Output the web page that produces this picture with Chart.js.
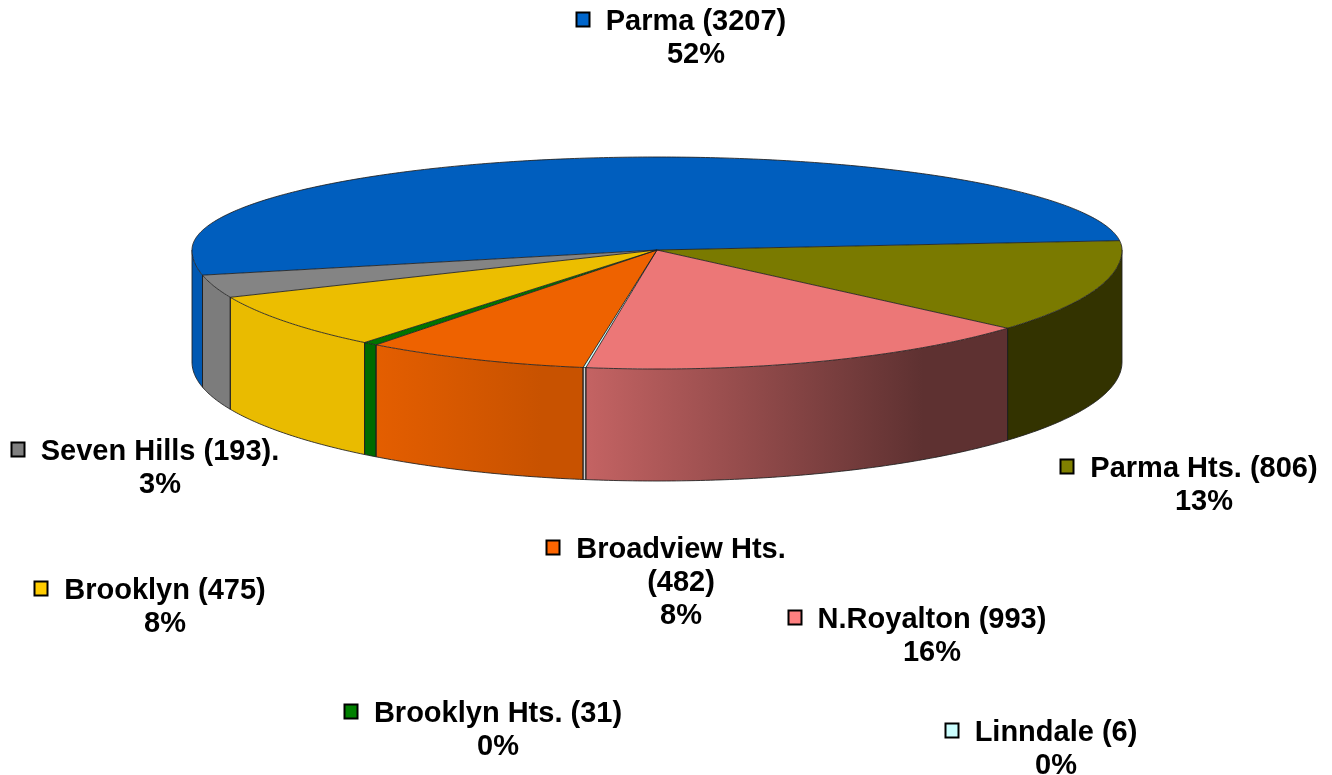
<!DOCTYPE html>
<html><head><meta charset="utf-8">
<script src="https://cdn.jsdelivr.net/npm/chart.js@4.4.1/dist/chart.umd.min.js"></script>
<style>html,body{margin:0;padding:0;background:#fff;overflow:hidden}canvas{display:block}</style>
</head><body>
<canvas id="c" width="1332" height="775"></canvas>
<script>
// ---- data ----
const categories = ['Parma','Parma Hts.','N.Royalton','Linndale','Broadview Hts.','Brooklyn Hts.','Brooklyn','Seven Hills'];
const values = [3207, 806, 993, 6, 482, 31, 475, 193];
const percentLabels = ['52%','13%','16%','0%','8%','0%','8%','3%'];
const nameSuffix = ['', '', '', '', '', '', '', '.'];

// ---- styles ----
const topColors  = ['#005EBE','#7A7A00','#EC7777','#CCFFFF','#EE6200','#007400','#ECBE00','#848484'];
const sideLeft   = ['#0058B2','#333300','#C46363','#D0D0D0','#E45E00','#006A00','#E9BB00','#7C7C7C'];
const sideRight  = ['#0058B2','#333300','#5E3131','#D0D0D0','#C85200','#006A00','#E9BB00','#7C7C7C'];
const keyColors  = ['#0066CC','#808000','#FF8080','#CCFFFF','#FF6600','#008000','#FFCC00','#808080'];

const GEO = {cx:657, cy:250, rx:465, ryBack:93, ryFront:119, depth:112};
const LINE = 33;
const LABEL_POS = [
  {x:696, y:30, split:false},
  {x:1204, y:477, split:false},
  {x:932, y:628, split:false},
  {x:1056, y:741, split:false},
  {x:681, y:558, split:true},
  {x:498, y:722, split:false},
  {x:165, y:599, split:false},
  {x:160, y:460, split:false}
];

function pt(a, dy){
  const s = Math.sin(a);
  const ry = s >= 0 ? GEO.ryFront : GEO.ryBack;
  return {x: GEO.cx + GEO.rx*Math.cos(a), y: GEO.cy + ry*s + (dy||0)};
}

function wallPath(ctx, s, e){
  const n = Math.max(2, Math.ceil((e-s)/0.01));
  ctx.beginPath();
  for (let k=0;k<=n;k++){ const p = pt(s+(e-s)*k/n); k?ctx.lineTo(p.x,p.y):ctx.moveTo(p.x,p.y); }
  for (let k=n;k>=0;k--){ const p = pt(s+(e-s)*k/n, GEO.depth); ctx.lineTo(p.x,p.y); }
  ctx.closePath();
}

const pie3d = {
  id:'pie3d',
  beforeDatasetsDraw(chart){
    const ctx = chart.ctx;
    const arcs = chart.getDatasetMeta(0).data;
    const TAU = Math.PI*2;
    const bounds = [];
    // side walls (front half only)
    arcs.forEach((arc,i)=>{
      const {startAngle, endAngle} = arc.getProps(['startAngle','endAngle'], true);
      for (let k=-2;k<=2;k++){
        const s = Math.max(startAngle + k*TAU, 0);
        const e = Math.min(endAngle + k*TAU, Math.PI);
        if (e > s){
          const x1 = pt(e).x, x2 = pt(s).x;
          const gr = ctx.createLinearGradient(x1, 0, x2, 0);
          gr.addColorStop(0, sideLeft[i]);
          gr.addColorStop(0.8, sideRight[i]);
          gr.addColorStop(1, sideRight[i]);
          ctx.save();
          wallPath(ctx, s, e);
          ctx.fillStyle = gr; ctx.fill();
          ctx.restore();
          bounds.push(s, e);
        }
      }
    });
    // wall outlines
    ctx.save();
    ctx.strokeStyle = 'rgba(30,30,30,0.85)'; ctx.lineWidth = 1;
    ctx.beginPath();
    for (let k=0;k<=300;k++){ const p = pt(Math.PI*k/300, GEO.depth); k?ctx.lineTo(p.x,p.y):ctx.moveTo(p.x,p.y); }
    ctx.stroke();
    bounds.forEach(a=>{ const p = pt(a); ctx.beginPath(); ctx.moveTo(p.x,p.y); ctx.lineTo(p.x,p.y+GEO.depth); ctx.stroke(); });
    ctx.restore();

    // top faces drawn by the library arcs, squashed into an ellipse (back & front halves)
    const a0 = arcs[0];
    const R = a0.outerRadius, ox = a0.x, oy = a0.y;
    const half = (y0, y1, ry) => {
      ctx.save();
      ctx.beginPath(); ctx.rect(0, y0, chart.width, y1-y0); ctx.clip();
      ctx.translate(GEO.cx, GEO.cy);
      ctx.scale(GEO.rx/R, ry/R);
      ctx.translate(-ox, -oy);
      arcs.forEach(a => a.draw(ctx));
      ctx.restore();
    };
    half(0, GEO.cy+0.5, GEO.ryBack);
    half(GEO.cy-0.5, chart.height, GEO.ryFront);

    // top outlines
    ctx.save();
    ctx.strokeStyle = 'rgba(30,30,30,0.85)'; ctx.lineWidth = 1;
    ctx.beginPath();
    for (let k=0;k<=600;k++){ const p = pt(TAU*k/600); k?ctx.lineTo(p.x,p.y):ctx.moveTo(p.x,p.y); }
    ctx.closePath(); ctx.stroke();
    arcs.forEach(arc=>{
      const {startAngle} = arc.getProps(['startAngle'], true);
      const p = pt(startAngle);
      ctx.beginPath(); ctx.moveTo(GEO.cx, GEO.cy); ctx.lineTo(p.x, p.y); ctx.stroke();
    });
    ctx.restore();
    return false;
  }
};

const labelPlugin = {
  id:'labels3d',
  afterDraw(chart){
    const ctx = chart.ctx;
    ctx.save();
    ctx.font = 'bold 29px "Liberation Sans", Arial, sans-serif';
    ctx.textAlign = 'center'; ctx.textBaseline = 'alphabetic';
    LABEL_POS.forEach((p,i)=>{
      const lines = p.split
        ? [categories[i], '(' + values[i] + ')' + nameSuffix[i]]
        : [categories[i] + ' (' + values[i] + ')' + nameSuffix[i]];
      lines.push(percentLabels[i]);
      ctx.fillStyle = '#000';
      lines.forEach((t,j)=> ctx.fillText(t, p.x, p.y + j*LINE));
      const w = ctx.measureText(lines[0]).width;
      const kx = Math.round(p.x - w/2 - 17 - 13) + 0.5;
      const ky = Math.round(p.y - 18) + 0.5;
      ctx.fillStyle = keyColors[i];
      ctx.fillRect(kx, ky, 13, 14);
      ctx.strokeStyle = '#000'; ctx.lineWidth = 2;
      ctx.strokeRect(kx, ky, 13, 14);
    });
    ctx.restore();
  }
};

new Chart(document.getElementById('c'), {
  type: 'pie',
  data: { labels: categories, datasets: [{ data: values, backgroundColor: topColors, borderWidth: 0 }] },
  options: {
    responsive: false, animation: false, devicePixelRatio: 1, events: [],
    rotation: 257.8,
    layout: { padding: 0 },
    plugins: { legend: { display: false }, tooltip: { enabled: false } }
  },
  plugins: [pie3d, labelPlugin]
});
</script>
</body></html>
